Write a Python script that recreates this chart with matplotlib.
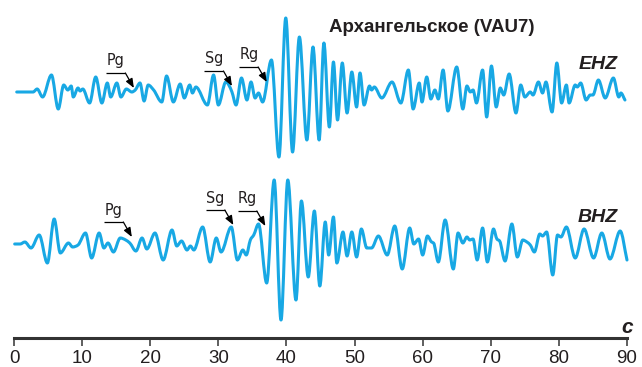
import numpy as np
import matplotlib
matplotlib.use('Agg')
from matplotlib import pyplot as plt
from matplotlib.path import Path
from matplotlib.patches import PathPatch

# Экстремумы записей: время, с / амплитуда (усл. ед.)
ehz_t = [0.4, 2.8, 3.4, 4.2, 5.5, 6.5, 7.3, 7.9, 8.4, 8.7, 9.4, 9.7, 10.1, 11.1, 12.0, 12.9,
         13.7, 14.2, 15.1, 15.7, 16.5, 17.3, 17.8, 18.5, 19.1, 19.7, 20.5, 21.7, 22.4, 23.4,
         24.4, 25.0, 25.8, 26.2, 26.7, 28.4, 29.3, 30.0, 31.1, 32.0, 32.6, 33.4, 34.2, 34.8,
         35.4, 35.9, 36.5, 37.8, 38.9, 39.9, 40.9, 41.9, 43.0, 43.9, 44.8, 45.5, 46.3, 46.9,
         47.5, 48.2, 48.9, 49.6, 50.3, 50.8, 51.4, 52.2, 52.5, 52.9, 54.0, 55.5, 56.8, 57.9,
         58.6, 59.5, 59.9, 60.6, 61.2, 61.8, 62.3, 63.0, 63.7, 65.0, 65.9, 66.5, 67.0, 67.4,
         67.9, 68.8, 69.4, 70.1, 70.8, 71.4, 71.9, 72.7, 73.7, 74.4, 75.0, 75.8, 76.2, 77.0,
         77.6, 78.1, 79.0, 79.7, 80.4, 81.1, 81.5, 82.4, 82.7, 83.2, 84.0, 84.6, 85.0, 85.8,
         86.8, 88.0, 88.8, 89.1, 89.7]
ehz_a = [0, 0, 3, -5, 17, -17, 7, 2, 6, -5, 4, 1, 3, -11, 15, -11,
         9, -5, 9, -5, 3, 0, 2, 9, -9, 7, 2, -10, 16, -10,
         8, -6, 7, -1, 5, -13, 17, -13, 10, 0, -13, 14, -8, 10,
         -6, -1, -10, 32, -65, 74, -60, 55, -48, 45, -48, 49, -35, 30,
         -28, 29, -21, 20, -15, 19, -13, 6, 2, 5, -6, 10, -11, 22,
         -17, 9, -10, 15, -7, 2, -7, 22, -19, 25, -17, 6, 0, 2,
         -11, 22, -25, 26, -15, 4, -3, 18, -21, 7, -5, 0, -3, 10,
         -1, 10, -20, 29, -11, 7, -11, 7, 5, 9, -8, -3, -3, 12,
         -6, 14, -5, -1, -8]

bhz_t = [0.1, 0.9, 1.6, 2.5, 3.7, 4.9, 5.9, 6.8, 8.0, 8.6, 9.4, 10.5, 11.4, 12.5, 13.2,
         13.8, 14.6, 15.6, 16.4, 17.0, 17.9, 18.8, 19.5, 20.7, 21.9, 23.2, 23.9, 24.6, 25.4,
         25.9, 26.4, 27.7, 28.8, 29.7, 30.4, 31.9, 32.8, 33.6, 34.1, 34.7, 35.2, 35.9, 37.1,
         38.2, 39.2, 40.2, 41.4, 42.2, 43.2, 44.1, 44.9, 45.7, 46.2, 46.9, 47.4, 48.3, 48.9,
         49.6, 50.3, 51.0, 51.8, 52.5, 53.5, 54.8, 55.9, 57.0, 58.1, 58.7, 59.4, 60.0, 60.7,
         61.3, 61.6, 62.3, 63.3, 64.5, 65.2, 65.9, 66.5, 66.9, 67.4, 68.0, 68.8, 69.5, 70.4,
         70.9, 71.3, 72.1, 73.1, 73.9, 74.7, 75.3, 75.8, 76.4, 77.2, 77.6, 78.2, 79.1, 79.8,
         80.3, 81.1, 82.4, 83.7, 85.1, 86.3, 87.5, 89.0, 90.0]
bhz_a = [-1, -1, 1, -5, 8, -20, 24, -10, 0, -4, -2, 10, -15, 10, -5,
         0, -9, 5, 3, 0, -8, 5, -6, 10, -17, 13, -3, 2, -7,
         -3, -7, 16, -19, 5, -9, 16, -17, -7, -12, 3, 8, 19, -40,
         63, -77, 63, -57, 42, -34, 32, -43, 21, -12, 26, -20, 11, -13,
         11, -14, 14, -5, -5, 7, -12, 17, -26, 15, -1, 4, -12, 7,
         1, 0, -19, 23, -26, 10, 0, 6, 3, 4, -17, 15, -19, 14,
         4, 2, -18, 19, -14, 3, 1, -2, -9, 9, 7, 11, -32, 8,
         6, 16, -15, 14, -15, 10, -16, 12, -17]

# Вступления волн
phase_names = ['Pg', 'Sg', 'Rg']
ehz_phase_t = [17.6, 32.0, 37.1]
ehz_phase_a = [4, 6, 10]
bhz_phase_t = [17.3, 32.2, 36.9]
bhz_phase_a = [6, 18, 17]

x_ticks = list(range(0, 100, 10))

PX = 613 / 90          # пикселей на секунду
EHZ_BASE = 92
BHZ_BASE = 243
AXIS_Y = 338
LINE_COLOR = '#18a8e4'
TEXT_COLOR = '#231f20'


def px(x):
    # пиксель по горизонтали -> секунды
    return (x - 14) / PX


def smooth_path(t, y):
    # монотонная кубическая кривая через экстремумы (как curveMonotoneX)
    t = np.asarray(t, float)
    y = np.asarray(y, float)
    h = np.diff(t)
    s = np.diff(y) / h
    m = np.zeros_like(t)
    m[0], m[-1] = s[0], s[-1]
    for i in range(1, len(t) - 1):
        if s[i - 1] * s[i] <= 0:
            m[i] = 0
        else:
            p = (s[i - 1] * h[i] + s[i] * h[i - 1]) / (h[i - 1] + h[i])
            m[i] = np.sign(s[i]) * min(2 * abs(s[i - 1]), 2 * abs(s[i]), abs(p))
    verts = [(t[0], y[0])]
    codes = [Path.MOVETO]
    for i in range(len(t) - 1):
        d = h[i] / 3
        verts += [(t[i] + d, y[i] + m[i] * d), (t[i + 1] - d, y[i + 1] - m[i + 1] * d), (t[i + 1], y[i + 1])]
        codes += [Path.CURVE4] * 3
    return Path(verts, codes)


fig = plt.figure(figsize=(6.42, 3.67), dpi=100)
ax = fig.add_axes([0, 0, 1, 1])
ax.set_xlim(px(0), px(642))
ax.set_ylim(367, 0)

for tt, aa, base in [(ehz_t, ehz_a, EHZ_BASE), (bhz_t, bhz_a, BHZ_BASE)]:
    yy = base - np.asarray(aa, float)
    ax.add_patch(PathPatch(smooth_path(tt, yy), fill=False, edgecolor=LINE_COLOR,
                           lw=2.2, capstyle='round', joinstyle='round'))

# Подписи вступлений: полочка + стрелка
for pt, pa, base in [(ehz_phase_t, ehz_phase_a, EHZ_BASE), (bhz_phase_t, bhz_phase_a, BHZ_BASE)]:
    for name, t0, a0 in zip(phase_names, pt, pa):
        tip = (t0, base - a0)
        elbow = (t0 - 8.5 / PX, tip[1] - 15)
        ax.plot([elbow[0] - 19 / PX, elbow[0]], [elbow[1], elbow[1]], color='black', lw=0.9,
                solid_capstyle='butt')
        ax.annotate('', xy=tip, xytext=elbow,
                    arrowprops=dict(arrowstyle='-|>,head_length=0.55,head_width=0.22',
                                    color='black', lw=0.9, shrinkA=0, shrinkB=0))
        ax.text(elbow[0] - 9.5 / PX, elbow[1] - 7.5, name, fontsize=11.5, family='DejaVu Sans',
                fontstretch='condensed', color=TEXT_COLOR, ha='center', va='baseline')

ax.text(px(431.5), 32, 'Архангельское (VAU7)', fontsize=13.5, fontweight='bold',
        family='Liberation Sans', color=TEXT_COLOR, ha='center', va='baseline')
ax.text(px(618), 69, 'EHZ', fontsize=14, fontweight='bold', fontstyle='italic',
        family='Liberation Sans', color=TEXT_COLOR, ha='right', va='baseline')
ax.text(px(618), 222, 'BHZ', fontsize=14, fontweight='bold', fontstyle='italic',
        family='Liberation Sans', color=TEXT_COLOR, ha='right', va='baseline')
ax.text(px(627), 333, 'с', fontsize=15, fontweight='bold', fontstyle='italic',
        family='Liberation Sans', color=TEXT_COLOR, ha='center', va='baseline')

# Ось времени
for side in ['top', 'left', 'right']:
    ax.spines[side].set_visible(False)
ax.spines['bottom'].set_position(('data', AXIS_Y))
ax.spines['bottom'].set_bounds(0, 90)
ax.spines['bottom'].set_linewidth(2.2)
ax.spines['bottom'].set_color('#333333')
ax.set_xticks(x_ticks)
ax.set_xticklabels([str(v) for v in x_ticks], family='Liberation Sans')
ax.set_yticks([])
ax.tick_params(axis='x', direction='out', length=6, width=1.1, pad=2.5,
               labelsize=13.5, colors='#333333', labelcolor=TEXT_COLOR)
ax.patch.set_visible(False)

plt.savefig('out.png', dpi=100, facecolor='white')
plt.close(fig)
